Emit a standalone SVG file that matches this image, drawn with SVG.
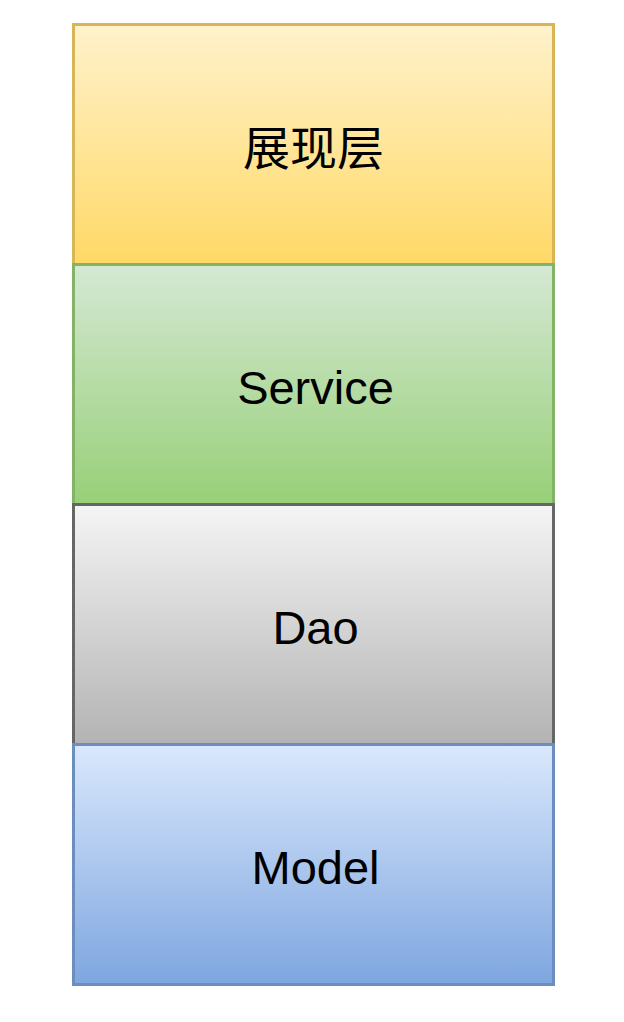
<svg xmlns="http://www.w3.org/2000/svg" width="624" height="1022" viewBox="0 0 624 1022">
<style>
.box{stroke-width:3}
.lbl{font-family:"Liberation Sans","Noto Sans CJK SC",Arial,sans-serif;font-size:47px;fill:#000;text-anchor:middle}
</style>
<defs>
<linearGradient id="gY" x1="0" y1="0" x2="0" y2="1"><stop offset="0" stop-color="#fff2cc"/><stop offset="1" stop-color="#ffd966"/></linearGradient>
<linearGradient id="gG" x1="0" y1="0" x2="0" y2="1"><stop offset="0" stop-color="#d5e8d4"/><stop offset="1" stop-color="#97d077"/></linearGradient>
<linearGradient id="gS" x1="0" y1="0" x2="0" y2="1"><stop offset="0" stop-color="#f5f5f5"/><stop offset="1" stop-color="#b3b3b3"/></linearGradient>
<linearGradient id="gB" x1="0" y1="0" x2="0" y2="1"><stop offset="0" stop-color="#dae8fc"/><stop offset="1" stop-color="#7ea6e0"/></linearGradient>
</defs>
<rect width="624" height="1022" fill="#ffffff"/>
<g id="presentation">
<rect class="box" x="73.5" y="24.5" width="480" height="240" fill="url(#gY)" stroke="#d6b656"/>
<text class="lbl" x="313.5" y="165">展现层</text>
</g>
<g id="service">
<rect class="box" x="73.5" y="264.5" width="480" height="240" fill="url(#gG)" stroke="#82b366"/>
<text class="lbl" x="315.5" y="404">Service</text>
</g>
<g id="dao">
<rect class="box" x="73.5" y="504.5" width="480" height="240" fill="url(#gS)" stroke="#666666"/>
<text class="lbl" x="315.5" y="644">Dao</text>
</g>
<g id="model">
<rect class="box" x="73.5" y="744.5" width="480" height="240" fill="url(#gB)" stroke="#6c8ebf"/>
<text class="lbl" x="315.5" y="884">Model</text>
</g>
<g id="connectors"/>
</svg>
